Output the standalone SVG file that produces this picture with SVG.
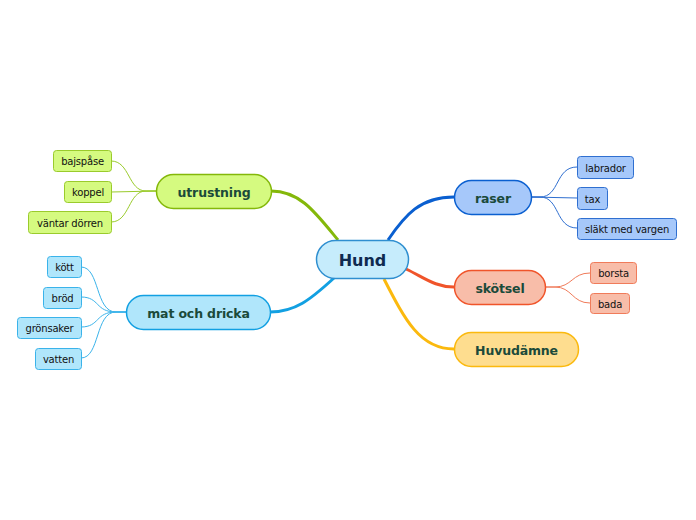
<svg xmlns="http://www.w3.org/2000/svg" width="696" height="520" viewBox="0 0 696 520">
<style>
text{font-family:"DejaVu Sans","Verdana",sans-serif;text-anchor:middle;dominant-baseline:central}
.b{font-size:12.5px;font-weight:bold;fill:#1b4a3a;letter-spacing:-0.15px}
.l{font-size:10px;fill:#111;letter-spacing:-0.2px}
.c{fill:none}
</style>
<rect width="696" height="520" fill="#fff"/>
<g id="connectors" class="c">
<path d="M388,240 C405,215 420,197 454,197" stroke="#0a5fd0" stroke-width="3" fill="none"/>
<path d="M406,269 C425,278 435,287 454,287" stroke="#f0542a" stroke-width="3" fill="none"/>
<path d="M384,279 C405,320 420,349 454,349" stroke="#fbb90e" stroke-width="3" fill="none"/>
<path d="M338,240 C315,212 300,191 271,191" stroke="#84b80a" stroke-width="3" fill="none"/>
<path d="M334,278 C310,300 295,312 270,312" stroke="#12a0e2" stroke-width="3" fill="none"/>
<g stroke="#2f6fd0" stroke-width="1" fill="none">
<path d="M531,197 L540,197 C560,197 555,167 577,167"/>
<path d="M531,197 L577,198"/>
<path d="M531,197 L540,197 C560,197 555,228 577,228"/>
</g>
<g stroke="#f07b5a" stroke-width="1" fill="none">
<path d="M545,287 L555,287 C572,287 572,273 590,273"/>
<path d="M545,287 L555,287 C572,287 572,303 590,303"/>
</g>
<g stroke="#9acb2c" stroke-width="1" fill="none">
<path d="M156,191 L146,191 C128,191 130,161 111,161"/>
<path d="M156,191 L111,192"/>
<path d="M156,191 L146,191 C128,191 130,222 111,222"/>
</g>
<g stroke="#3ab3ea" stroke-width="1" fill="none">
<path d="M126,312 L116,312 C95,312 100,267 81,267"/>
<path d="M126,312 L116,312 C95,312 100,297 81,297"/>
<path d="M126,312 L116,312 C95,312 100,327 81,327"/>
<path d="M126,312 L116,312 C95,312 100,358 81,358"/>
</g>
</g>
<g id="hund"><rect x="316.5" y="240.5" width="92" height="38" rx="19" fill="#c6ecfc" stroke="#2f8fd0" stroke-width="1.5"/><text x="362.5" y="260" style="font-size:16px;font-weight:bold;fill:#0f2a50">Hund</text></g>
<g id="raser"><rect x="454.5" y="180.5" width="77" height="34" rx="17" fill="#a6c8fa" stroke="#0a5fd0" stroke-width="1.5"/><text class="b" x="493" y="198">raser</text></g>
<g id="skotsel"><rect x="454.5" y="270.5" width="91" height="34" rx="17" fill="#f8bda9" stroke="#f0542a" stroke-width="1.5"/><text class="b" x="500" y="288">skötsel</text></g>
<g id="huvudamne"><rect x="454.5" y="332.5" width="124" height="34" rx="17" fill="#fedd8f" stroke="#fbb90e" stroke-width="1.5"/><text class="b" x="516.5" y="350">Huvudämne</text></g>
<g id="utrustning"><rect x="156.5" y="174.5" width="115" height="34" rx="17" fill="#d5fa80" stroke="#84b80a" stroke-width="1.5"/><text class="b" x="214" y="192">utrustning</text></g>
<g id="mat"><rect x="126.5" y="295.5" width="144" height="34" rx="17" fill="#b0e6fb" stroke="#12a0e2" stroke-width="1.5"/><text class="b" x="198.5" y="313">mat och dricka</text></g>
<g id="labrador"><rect x="577.5" y="156.5" width="56" height="22" rx="3" fill="#a6c8fa" stroke="#2f6fd0"/><text class="l" x="605.5" y="168">labrador</text></g>
<g id="tax"><rect x="577.5" y="187.5" width="30" height="22" rx="3" fill="#a6c8fa" stroke="#2f6fd0"/><text class="l" x="592.5" y="199">tax</text></g>
<g id="slakt"><rect x="577.5" y="218.5" width="99" height="21" rx="3" fill="#a6c8fa" stroke="#2f6fd0"/><text class="l" x="627" y="229.5">släkt med vargen</text></g>
<g id="borsta"><rect x="590.5" y="262.5" width="46" height="21" rx="3" fill="#f8bda9" stroke="#f07b5a"/><text class="l" x="613.5" y="273.5">borsta</text></g>
<g id="bada"><rect x="590.5" y="293.5" width="39" height="20" rx="3" fill="#f8bda9" stroke="#f07b5a"/><text class="l" x="610" y="304">bada</text></g>
<g id="bajspase"><rect x="53.5" y="150.5" width="58" height="21" rx="3" fill="#d5fa80" stroke="#9acb2c"/><text class="l" x="82.5" y="161.5">bajspåse</text></g>
<g id="koppel"><rect x="64.5" y="181.5" width="47" height="21" rx="3" fill="#d5fa80" stroke="#9acb2c"/><text class="l" x="88" y="192.5">koppel</text></g>
<g id="vantar"><rect x="28.5" y="211.5" width="83" height="22" rx="3" fill="#d5fa80" stroke="#9acb2c"/><text class="l" x="70" y="223">väntar dörren</text></g>
<g id="kott"><rect x="47.5" y="256.5" width="34" height="21" rx="3" fill="#b0e6fb" stroke="#3ab3ea"/><text class="l" x="64.5" y="267.5">kött</text></g>
<g id="brod"><rect x="43.5" y="287.5" width="38" height="21" rx="3" fill="#b0e6fb" stroke="#3ab3ea"/><text class="l" x="62.5" y="298">bröd</text></g>
<g id="gronsaker"><rect x="17.5" y="317.5" width="64" height="21" rx="3" fill="#b0e6fb" stroke="#3ab3ea"/><text class="l" x="49.5" y="328.5">grönsaker</text></g>
<g id="vatten"><rect x="35.5" y="348.5" width="46" height="21" rx="3" fill="#b0e6fb" stroke="#3ab3ea"/><text class="l" x="58.5" y="359">vatten</text></g>
</svg>
